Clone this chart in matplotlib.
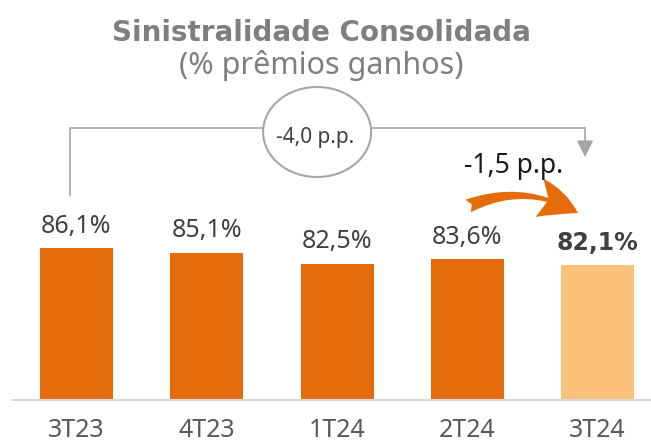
import matplotlib.pyplot as plt
from matplotlib.patches import Ellipse, FancyArrowPatch

plt.rcParams['font.family'] = ['Noto Sans', 'DejaVu Sans']

# Data
quarters = ["3T23", "4T23", "1T24", "2T24", "3T24"]
loss_ratio = [86.1, 85.1, 82.5, 83.6, 82.1]
value_labels = ["86,1%", "85,1%", "82,5%", "83,6%", "82,1%"]
delta_total = "-4,0 p.p."
delta_last = "-1,5 p.p."

ORANGE = "#E46C0A"
LIGHT = "#FCC27A"
GRAY = "#A6A6A6"

fig = plt.figure(figsize=(6.51, 4.43), dpi=100)
ax = fig.add_axes([12 / 651, 43 / 443, 639 / 651, 357 / 443])

x = list(range(len(quarters)))
colors = [ORANGE] * (len(quarters) - 1) + [LIGHT]
bars = ax.bar(x, loss_ratio, width=0.56, color=colors, zorder=2)

ax.set_xlim(-0.495, 4.41)
ax.set_ylim(50, 50 + 357 / 4.2)

# Value labels on top of bars
for i, (b, lab) in enumerate(zip(bars, value_labels)):
    last = i == len(bars) - 1
    ax.annotate(lab, (b.get_x() + b.get_width() / 2, b.get_height()),
                xytext=(0, 11), textcoords="offset points",
                ha="center", va="baseline",
                fontsize=17 if last else 18,
                color="#404040",
                fontweight="bold" if last else "normal",
                family="DejaVu Sans" if last else None)

ax.set_xticks(x)
ax.set_xticklabels(quarters, fontsize=18, color="#595959")
ax.tick_params(axis="x", length=0, pad=13)
ax.set_yticks([])
for s in ["top", "right", "left"]:
    ax.spines[s].set_visible(False)
ax.spines["bottom"].set_color("#D9D9D9")
ax.spines["bottom"].set_linewidth(1.5)

# Bracket showing total change
y_bot = 50 + 205 / 4.2
y_top = 50 + 272 / 4.2
y_tip = 50 + 243 / 4.2
xl = x[0] - 0.05
xr = x[-1] - 0.096
ax.plot([xl, xl, xr], [y_bot, y_top, y_top], color=GRAY, lw=1.2,
        clip_on=False, zorder=1)
ax.annotate("", xy=(xr, y_tip), xytext=(xr, y_top),
            arrowprops=dict(arrowstyle="-|>,head_length=1.0,head_width=0.5",
                            color=GRAY, lw=1.2, shrinkA=0, shrinkB=0),
            annotation_clip=False)

ell = Ellipse((1.847, 50 + 268 / 4.2), width=108 / 130.25, height=90 / 4.2,
              facecolor="white", edgecolor=GRAY, lw=1.5, zorder=3,
              clip_on=False)
ax.add_patch(ell)
ax.text(1.83, 50 + 257 / 4.2, delta_total, ha="center", va="baseline",
        fontsize=15, color="#404040", zorder=4)

# Last quarter change
ax.text(3.356, 50 + 227 / 4.2, delta_last, ha="center", va="baseline",
        fontsize=19, color="#1A1A1A")
curved = FancyArrowPatch((3.006, 50 + 194 / 4.2), (3.85, 50 + 187 / 4.2),
                         connectionstyle="arc3,rad=-0.25",
                         arrowstyle="fancy,head_length=0.85,head_width=0.8,tail_width=0.28",
                         mutation_scale=35, color=ORANGE, lw=0,
                         shrinkA=0, shrinkB=0, clip_on=False)
ax.add_patch(curved)

# Titles
fig.text(0.493, 1 - 41 / 443, "Sinistralidade Consolidada", ha="center",
         va="baseline", fontsize=20, fontweight="bold", color="#7F7F7F",
         family="DejaVu Sans")
fig.text(0.493, 1 - 74 / 443, "(% prêmios ganhos)", ha="center",
         va="baseline", fontsize=22, color="#7F7F7F")

fig.savefig("out.png", dpi=100)
